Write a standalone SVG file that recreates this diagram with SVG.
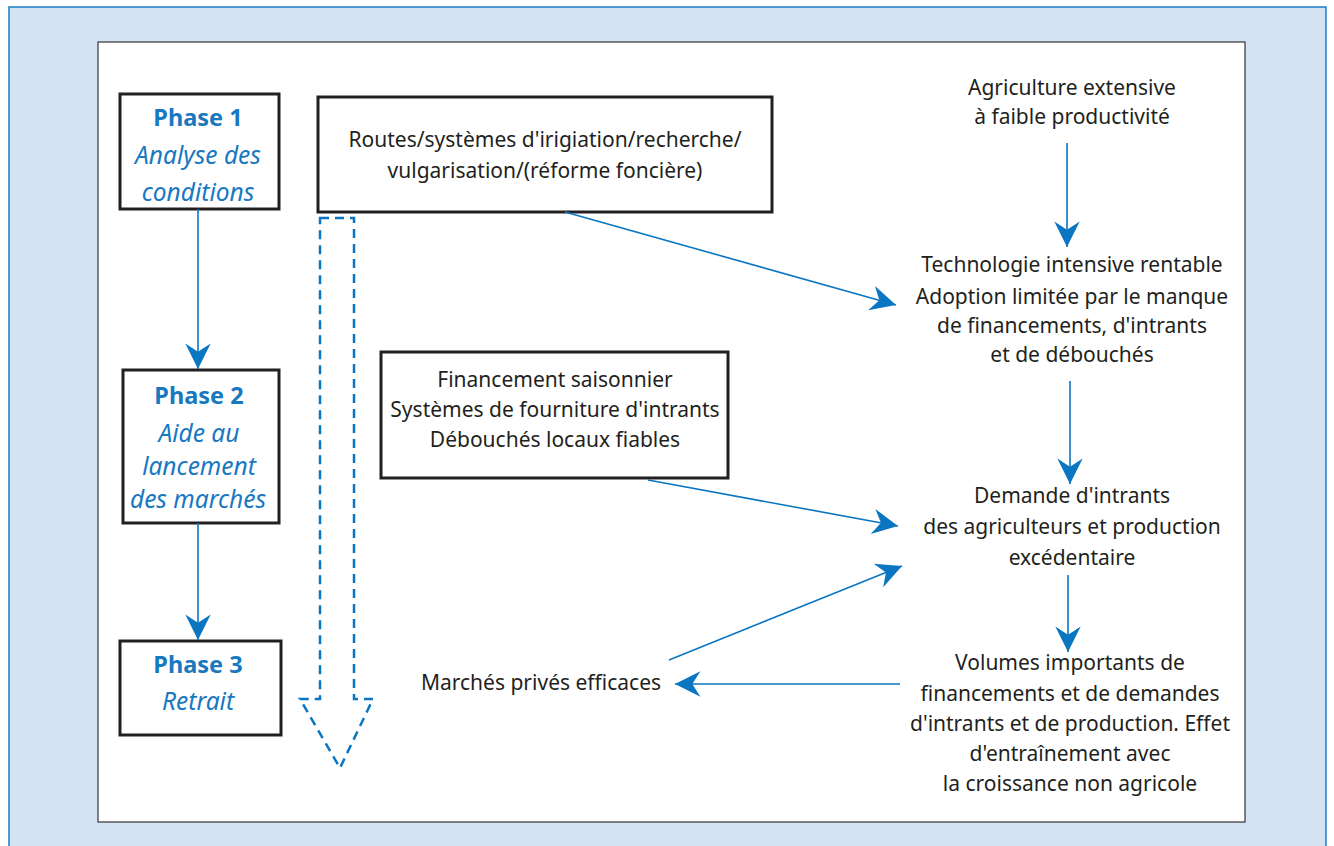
<svg xmlns="http://www.w3.org/2000/svg" width="1334" height="846" viewBox="0 0 1334 846">
<style>
.t{font-family:"Noto Sans","Open Sans",sans-serif;font-size:21px;fill:#231f20;text-anchor:middle}
.ph{font-family:"Noto Sans","Open Sans",sans-serif;font-size:23.5px;font-weight:bold;fill:#1878c0;text-anchor:middle}
.it{font-family:"Noto Sans","Open Sans",sans-serif;font-size:24.5px;font-style:italic;fill:#1878c0;text-anchor:middle}
.box{fill:#fff;stroke:#231f20;stroke-width:3}
.c{stroke:#0a76c2;stroke-width:1.6;fill:none;marker-end:url(#ah)}
</style>
<defs>
<marker id="ah" markerUnits="userSpaceOnUse" markerWidth="30" markerHeight="30" viewBox="-24 -13 26 26" refX="0" refY="0" orient="auto">
<path d="M0,0 L-22,-11 L-15,0 L-22,11 Z" fill="#0a76c2"/>
</marker>
</defs>
<rect x="9" y="7" width="1317" height="850" fill="#d5e2f2" stroke="#1a7dc4" stroke-width="1.5"/>
<rect x="98" y="42" width="1147" height="780" fill="#fff" stroke="#333" stroke-width="1.2"/>
<g id="phase1"><rect class="box" x="120" y="94" width="159" height="115"/>
<text class="ph" x="198" y="126">Phase 1</text>
<text class="it" x="198" y="164">Analyse des</text>
<text class="it" x="198" y="201">conditions</text></g>
<g id="phase2"><rect class="box" x="123" y="370" width="156" height="153"/>
<text class="ph" x="199" y="404">Phase 2</text>
<text class="it" x="199" y="442">Aide au</text>
<text class="it" x="199" y="475">lancement</text>
<text class="it" x="198" y="508">des marchés</text></g>
<g id="phase3"><rect class="box" x="120" y="641" width="161" height="94"/>
<text class="ph" x="198" y="673">Phase 3</text>
<text class="it" x="198" y="710">Retrait</text></g>
<g id="routes"><rect class="box" x="318" y="97" width="454" height="115"/>
<text class="t" x="545" y="147">Routes/systèmes d'irigiation/recherche/</text>
<text class="t" x="545" y="178">vulgarisation/(réforme foncière)</text></g>
<g id="financement"><rect class="box" x="381" y="352" width="347" height="126"/>
<text class="t" x="555" y="387">Financement saisonnier</text>
<text class="t" x="555" y="417">Systèmes de fourniture d'intrants</text>
<text class="t" x="555" y="447">Débouchés locaux fiables</text></g>
<g id="dashed-arrow"><path d="M320,218 L354,218 L354,699 L373,699 L340,768 L300,699 L320,699 Z" fill="none" stroke="#0a76c2" stroke-width="2.5" stroke-dasharray="9,6"/></g>
<g id="agri"><text class="t" x="1072" y="95">Agriculture extensive</text>
<text class="t" x="1072" y="124">à faible productivité</text></g>
<g id="techno"><text class="t" x="1072" y="272">Technologie intensive rentable</text>
<text class="t" x="1072" y="304">Adoption limitée par le manque</text>
<text class="t" x="1072" y="333">de financements, d'intrants</text>
<text class="t" x="1072" y="362">et de débouchés</text></g>
<g id="demande"><text class="t" x="1072" y="503">Demande d'intrants</text>
<text class="t" x="1072" y="534">des agriculteurs et production</text>
<text class="t" x="1072" y="565">excédentaire</text></g>
<g id="volumes"><text class="t" x="1070" y="670">Volumes importants de</text>
<text class="t" x="1070" y="701">financements et de demandes</text>
<text class="t" x="1070" y="731">d'intrants et de production. Effet</text>
<text class="t" x="1070" y="761">d'entraînement avec</text>
<text class="t" x="1070" y="791">la croissance non agricole</text></g>
<g id="marches"><text class="t" x="541" y="690">Marchés privés efficaces</text></g>
<g id="connectors">
<line class="c" x1="198" y1="209" x2="198" y2="369"/>
<line class="c" x1="198" y1="523" x2="198" y2="640"/>
<line class="c" x1="1067" y1="143" x2="1067" y2="247"/>
<line class="c" x1="1070" y1="381" x2="1070" y2="484"/>
<line class="c" x1="1068" y1="575" x2="1068" y2="652"/>
<line class="c" x1="565" y1="212" x2="896" y2="305"/>
<line class="c" x1="648" y1="480" x2="898" y2="526"/>
<line class="c" x1="669" y1="660" x2="902" y2="566"/>
<line class="c" x1="900" y1="684" x2="675" y2="684"/>
</g>
</svg>
